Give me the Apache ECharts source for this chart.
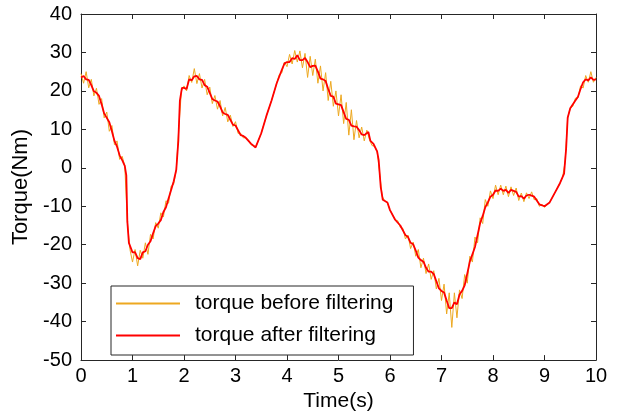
<!DOCTYPE html>
<html>
<head>
<meta charset="utf-8">
<script src="https://cdn.jsdelivr.net/npm/echarts@6/dist/echarts.min.js"></script>
<style>
html,body{margin:0;padding:0;background:#fff;}
#chart{width:621px;height:417px;}
</style>
</head>
<body>
<div id="chart"></div>
<script>
// Filtered torque: time (s) and torque (Nm)
var filteredTime = [
0,0.05,0.1,0.15,0.2,0.25,0.3,0.35,0.4,0.45,0.5,0.55,0.6,0.65,0.7,0.75,0.8,0.85,0.88,0.9,0.93,
1.0,1.05,1.1,1.15,1.2,1.25,1.3,1.35,1.4,1.45,1.5,1.55,1.6,1.65,1.7,1.75,1.8,1.85,1.89,1.92,1.96,
2.0,2.05,2.1,2.15,2.2,2.25,2.3,2.35,2.4,2.45,2.5,2.55,2.6,2.65,2.7,2.75,2.8,2.85,2.9,2.95,
3.0,3.1,3.15,3.2,3.3,3.39,3.5,3.6,3.7,3.8,3.9,3.95,
4.0,4.05,4.1,4.15,4.2,4.25,4.3,4.35,4.4,4.45,4.5,4.55,4.6,4.65,4.7,4.75,4.8,4.85,4.9,4.95,
5.0,5.05,5.1,5.15,5.2,5.25,5.3,5.35,5.4,5.45,5.5,5.58,5.62,5.68,5.75,5.78,5.82,5.86,5.95,
6.0,6.1,6.2,6.3,6.35,6.4,6.45,6.5,6.55,6.6,6.65,6.7,6.75,6.8,6.85,6.9,6.95,
7.0,7.05,7.1,7.15,7.2,7.25,7.3,7.35,7.4,7.45,7.5,7.55,7.6,7.65,7.7,7.75,7.8,7.85,7.9,7.95,
8.0,8.05,8.1,8.15,8.2,8.25,8.3,8.35,8.4,8.45,8.5,8.55,8.6,8.65,8.7,8.75,8.8,8.9,
9.0,9.1,9.2,9.3,9.38,9.42,9.45,9.5,9.6,9.65,9.7,9.75,9.8,9.85,9.9,9.95,10.0];
var filteredTorque = [
23.5,23.9,23,22.85,21.5,19.9,19.5,18.7,16.5,14.15,13,11.85,9.5,7,5.5,3.25,2,0.5,-2,-14,-19.5,
-22,-21.95,-23.5,-23.75,-22,-21.7,-20,-19.1,-17,-15.15,-14.5,-13.6,-11.5,-10.25,-8,-5.75,-3.5,-0.5,7,17.5,20.8,
20.8,20.5,23,22.8,23.8,23.9,23,22.85,21.5,21.1,19.5,17.9,17.5,17.25,16,14.4,14,13.75,12.5,11.25,
11,8.5,8.3,7.8,6.3,5.3,9,13.5,17.5,22,25.5,27.1,
27.5,27.5,28.5,28.3,29.3,28,28,28.55,27.5,26.2,26.5,26.55,25,23.2,23,22.55,20.5,18.7,18.5,16.7,
16.5,16.3,14.5,12.7,12.5,11,10.8,10.7,9.8,8.7,8.5,9.3,7,6.2,4.3,2,-5,-8.3,-9,
-11,-13.5,-15,-17.5,-18,-19.5,-19.9,-21.5,-23.35,-24,-24.4,-26,-27,-27,-27.65,-29.5,-31.35,
-32,-32.45,-34.5,-36.5,-36.5,-35,-35.5,-32.95,-32,-30.55,-27.5,-24.4,-22.5,-20.6,-17.5,-14.4,-12.5,-10.25,-9,-7.5,
-7,-5.9,-6,-5.4,-6,-5.75,-6.5,-5.75,-6,-6.25,-7.5,-7.35,-8,-7.2,-7,-7.25,-7.5,-9.5,
-10,-9,-6.5,-4,-1.5,5,13,15.5,17.5,18.5,20.5,22.25,23,22.75,23.5,22.85,23];

// Raw torque, sampled every 0.05 s from 0 s to 10 s
var rawStart = 0;
var rawStep = 0.05;
var rawTorque = [
24.5,22,25,20.8,23,18.7,20.7,16.5,18,13,14.5,9.5,11,6,7,2.2,3,0.5,-14,-21.2,
-24.5,-21.25,-25.5,-21.45,-23.5,-19.5,-22.5,-17.3,-18.5,-14.25,-15.7,-11.7,-12.8,-8.55,-9.2,-4.75,-4.3,-0.5,10.5,20,
21.3,20,24,22.2,25.8,21.9,24.5,20.75,23,19,21,16.7,18.8,15.25,17.5,13.5,15.7,11.95,13.7,10.75,
12,8.95,9,7.8,7.8,7.3,6,5.7,5.6,7.3,9,11.25,13.5,15.5,17.5,19.75,22,24.25,24.7,27.5,
26.3,29.5,27,30.5,27.5,30.4,26,29.75,23.5,29,24,28.25,22,26.5,20,24.75,17.5,22.5,16,20,
13.5,19,11.5,17,8.5,15.1,7.3,12.3,7.8,10.6,7,9.8,7.4,5.8,5.6,4.3,-1.5,-7.5,-8.6,-9,
-11,-12.25,-13.5,-13.75,-15.5,-15.75,-18.5,-17.5,-21,-19.3,-23,-21.25,-26,-23.5,-27.5,-25,-29,-26.75,-31.5,-28.75,
-34.5,-30.25,-38,-32.5,-41.5,-32.5,-39,-31.75,-34,-27.75,-30,-23,-24.5,-18,-19.5,-13,-14.5,-8.25,-10,-6,
-8,-4.5,-7,-4.5,-7,-4.75,-7.5,-4.95,-7.2,-5.25,-8.5,-6.55,-8.8,-6.5,-8,-6.25,-8.3,-8,-10,-9.45,
-10.3,-9.5,-9,-7.75,-6.5,-5.25,-4,-2.5,1.5,13,15.5,16,18.1,18.2,21.3,20.75,24,22.25,25,22.25,
23.5
];

var xTicks = [0,1,2,3,4,5,6,7,8,9,10];
var yTicks = [-50,-40,-30,-20,-10,0,10,20,30,40];

var seriesNames = ['torque before filtering', 'torque after filtering'];

var rawData = rawTorque.map(function (v, i) { return [+(rawStart + i * rawStep).toFixed(2), v]; });
var filtData = filteredTime.map(function (t, i) { return [t, filteredTorque[i]]; });

var FONT = 'Liberation Sans, Arial, sans-serif';
var AX = '#262626';

var chart = echarts.init(document.getElementById('chart'), null, {renderer: 'canvas'});
chart.setOption({
  animation: false,
  backgroundColor: '#fff',
  grid: {left: 81, right: 25, top: 14, bottom: 55, containLabel: false},
  xAxis: [{
    type: 'value', min: xTicks[0], max: xTicks[xTicks.length - 1], interval: 1,
    name: 'Time(s)', nameLocation: 'middle', nameGap: 30,
    nameTextStyle: {fontFamily: FONT, fontSize: 21, color: '#000'},
    axisLine: {show: true, onZero: false, lineStyle: {color: AX, width: 1}},
    axisTick: {show: true, inside: true, length: 5, lineStyle: {color: AX}},
    axisLabel: {fontFamily: FONT, fontSize: 20, color: '#000', margin: 6},
    splitLine: {show: false}
  }, {
    type: 'value', position: 'top', min: xTicks[0], max: xTicks[xTicks.length - 1], interval: 1,
    axisLine: {show: true, onZero: false, lineStyle: {color: AX, width: 1}},
    axisTick: {show: true, inside: true, length: 5, lineStyle: {color: AX}},
    axisLabel: {show: false}, splitLine: {show: false}
  }],
  yAxis: [{
    type: 'value', min: yTicks[0], max: yTicks[yTicks.length - 1], interval: 10,
    name: 'Torque(Nm)', nameLocation: 'middle', nameGap: 45, nameRotate: 90,
    nameTextStyle: {fontFamily: FONT, fontSize: 22, color: '#000'},
    axisLine: {show: true, onZero: false, lineStyle: {color: AX, width: 1}},
    axisTick: {show: true, inside: true, length: 5, lineStyle: {color: AX}},
    axisLabel: {fontFamily: FONT, fontSize: 20, color: '#000', margin: 9},
    splitLine: {show: false}
  }, {
    type: 'value', position: 'right', min: yTicks[0], max: yTicks[yTicks.length - 1], interval: 10,
    axisLine: {show: true, onZero: false, lineStyle: {color: AX, width: 1}},
    axisTick: {show: true, inside: true, length: 5, lineStyle: {color: AX}},
    axisLabel: {show: false}, splitLine: {show: false}
  }],
  legend: {
    left: 111, top: 286, orient: 'vertical',
    backgroundColor: '#fff', borderColor: AX, borderWidth: 1,
    padding: [7, 20, 9, 5], itemGap: 11,
    itemWidth: 64, itemHeight: 2, icon: 'rect',
    textStyle: {fontFamily: FONT, fontSize: 21, color: '#000', padding: [0, 0, 0, 10]},
    data: seriesNames
  },
  series: [{
    name: seriesNames[0], type: 'line', data: rawData, showSymbol: false, symbol: 'none',
    lineStyle: {color: '#EDA820', width: 1}, itemStyle: {color: '#EDA820'}, z: 2
  }, {
    name: seriesNames[1], type: 'line', data: filtData, showSymbol: false, symbol: 'none',
    lineStyle: {color: '#FF0000', width: 1.8}, itemStyle: {color: '#FF0000'}, z: 3
  }]
});
</script>
</body>
</html>
